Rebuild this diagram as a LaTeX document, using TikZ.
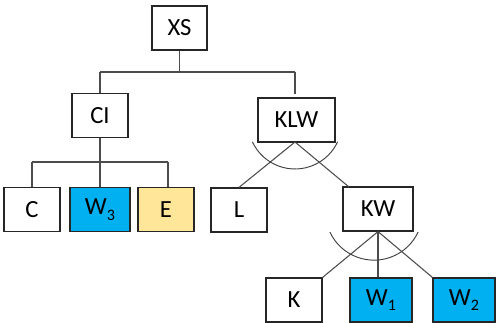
\documentclass[tikz,border=0pt]{standalone}
\usepackage{fontspec}
\setmainfont{Carlito}
\definecolor{boxblue}{HTML}{00B0F0}
\definecolor{boxgold}{HTML}{FFE699}
\newcommand{\subidx}[1]{\raisebox{-0.45ex}{\fontsize{12}{12}\selectfont #1}}
\begin{document}
\begin{tikzpicture}[x=0.75pt,y=0.75pt,
  treebox/.style={draw=black!85,line width=0.9pt,fill=white,inner sep=0pt,
    font=\fontsize{18.5}{22}\selectfont,minimum height=33pt},
  link/.style={draw=black!70,line width=0.8pt},
  andarc/.style={draw=black!75,line width=0.7pt}]
\useasboundingbox (0,0) rectangle (496,-323);

% boxes
\node[treebox,minimum width=41.25pt] (XS)  at (179.5,-28)  {XS};
\node[treebox,minimum width=42pt]    (CI)  at (100,-115.5) {CI};
\node[treebox,minimum width=57.75pt] (KLW) at (296.5,-120) {KLW};
\node[treebox,minimum width=42pt]    (C)   at (32,-209.5)  {C};
\node[treebox,minimum width=45pt,fill=boxblue] (W3) at (100,-209.5) {W\subidx{3}};
\node[treebox,minimum width=42pt,fill=boxgold] (E)  at (166,-209.5) {E};
\node[treebox,minimum width=42pt]    (L)   at (239,-210)   {L};
\node[treebox,minimum width=52.5pt]  (KW)  at (378,-209)   {KW};
\node[treebox,minimum width=42pt]    (K)   at (294,-300)   {K};
\node[treebox,minimum width=46.5pt,fill=boxblue] (W1) at (381,-300) {W\subidx{1}};
\node[treebox,minimum width=46.5pt,fill=boxblue] (W2) at (464,-300) {W\subidx{2}};

% XS branches
\coordinate (xsbar) at (179.5,-72);
\coordinate (xsL) at (100,-72);
\coordinate (xsR) at (295,-72);
\coordinate (xsRend) at (295,-94);
\draw[link] (XS.south) -- (xsbar);
\draw[link] (xsL) -- (xsR);
\draw[link] (xsL) -- (CI.north);
\draw[link] (xsR) -- (xsRend);

% CI branches
\coordinate (cibar) at (100,-162);
\coordinate (ciL) at (32,-162);
\coordinate (ciR) at (168,-162);
\draw[link] (CI.south) -- (cibar);
\draw[link] (ciL) -- (ciR);
\draw[link] (ciL) -- (C.north);
\draw[link] (cibar) -- (W3.north);
\draw[link] (ciR) -- (ciR |- E.north);

% KLW branches with AND arc
\coordinate (klwfoot) at (295,-142);
\coordinate (kwtop) at (349,-187);
\draw[link] (klwfoot) -- (L.north);
\draw[link] (klwfoot) -- (kwtop);
\coordinate (klwarc) at (295,-122);
\draw[andarc] ([shift={(-155:35.25pt)}]klwarc) arc[start angle=-155,end angle=-25,radius=35.25pt];

% KW branches with AND arc
\draw[link] (KW.south) -- (K.north east);
\draw[link] (KW.south) -- (W1.north -| KW.south);
\draw[link] (KW.south) -- (W2.north west);
\coordinate (kwarc) at (374,-211.5);
\draw[andarc] ([shift={(-155:36.5pt)}]kwarc) arc[start angle=-155,end angle=-25,radius=36.5pt];
\end{tikzpicture}
\end{document}
